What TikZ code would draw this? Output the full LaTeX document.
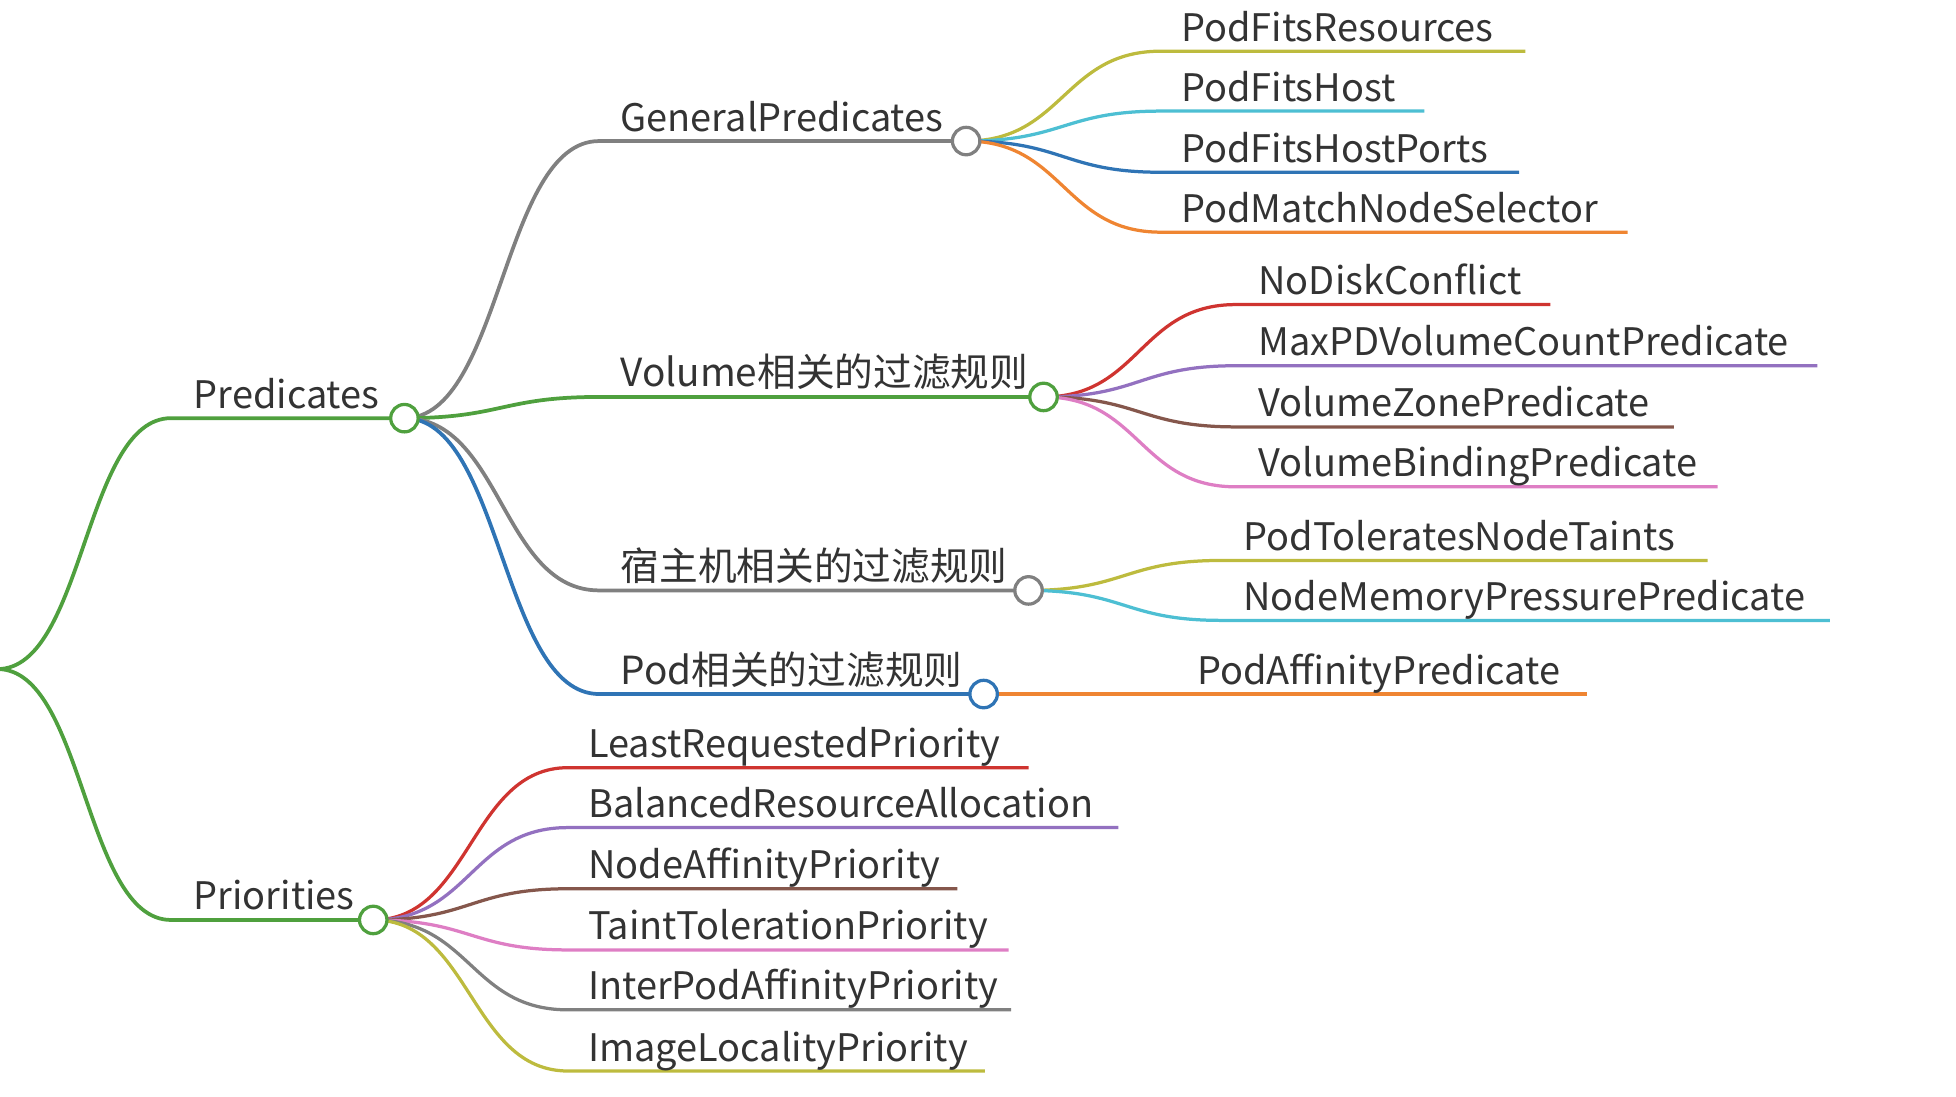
\documentclass[tikz,border=0pt]{standalone}
\usepackage{fontspec}
\setmainfont{Noto Sans CJK SC}
\usetikzlibrary{calc}
\pgfdeclarelayer{bg}\pgfsetlayers{bg,main}
\definecolor{txt}{HTML}{333333}
\definecolor{cgreen}{HTML}{4FA03E}
\definecolor{cgray}{HTML}{808080}
\definecolor{cblue}{HTML}{2F74B5}
\definecolor{corange}{HTML}{EF8532}
\definecolor{cred}{HTML}{CF3430}
\definecolor{cpurple}{HTML}{9371C0}
\definecolor{cbrown}{HTML}{85574C}
\definecolor{cpink}{HTML}{DE7EC4}
\definecolor{colive}{HTML}{BDBB3E}
\definecolor{ccyan}{HTML}{4DBFD3}
\newcommand\zh{\fontsize{31}{37}\selectfont}
\tikzset{
  lbl/.style={anchor=base west, inner sep=0pt, text=txt, font=\fontsize{30.4}{37}\selectfont},
  dot/.style={circle, draw=#1, fill=white, line width=2.6pt, minimum size=22pt, inner sep=0pt},
  branch/.style={draw=#1, line width=3pt},
  twig/.style={draw=#1, line width=2.6pt},
}
\newcommand\curvelink[4]{%
  \begin{pgfonlayer}{bg}
  \draw[#1] let \p1=(#2), \p2=(#3) in (\p1) .. controls ({(\x1+\x2)/2},\y1) and ({(\x1+\x2)/2},\y2) .. (\p2) -- (#4);
  \end{pgfonlayer}}
% #1 name, #2 parent circle, #3 colour, #4 y, #5 line start x, #6 line end x, #7 text x, #8 text
\newcommand\leaf[8]{%
  \coordinate (#1-s) at (#5,#4);
  \coordinate (#1-e) at (#6,#4);
  \node[lbl] (#1) at (#7,#4-8) {#8};
  \curvelink{twig=#3}{#2.center}{#1-s}{#1-e}}
% #1 name, #2 parent circle, #3 colour, #4 y, #5 line start x, #6 circle x, #7 text x, #8 text
\newcommand\inner[8]{%
  \coordinate (#1-s) at (#5,#4);
  \node[dot=#3] (#1-c) at (#6,#4) {};
  \node[lbl] (#1) at (#7,#4-8) {#8};
  \curvelink{branch=#3}{#2}{#1-s}{#1-c.center}}
\begin{document}
\begin{tikzpicture}[x=1pt,y=-1pt]
\useasboundingbox (0,0) rectangle (1567,878.1);
\coordinate (root) at (-2,536);
% level 1
\inner{pred}{root}{cgreen}{335}{137}{324}{155}{Predicates}
\inner{prio}{root}{cgreen}{737}{137}{299}{155}{Priorities}
% level 2
\inner{gp}{pred-c.center}{cgray}{113}{480}{774}{497}{GeneralPredicates}
\inner{vol}{pred-c.center}{cgreen}{318}{480}{836}{497}{\zh Volume相关的过滤规则}
\inner{host}{pred-c.center}{cgray}{473}{480}{824}{497}{\zh 宿主机相关的过滤规则}
\inner{pod}{pred-c.center}{cblue}{556}{480}{788}{497}{\zh Pod相关的过滤规则}
% leaves of GeneralPredicates
\leaf{pfr}{gp-c}{colive}{41}{930}{1222}{946}{PodFitsResources}
\leaf{pfh}{gp-c}{ccyan}{89}{930}{1141}{946}{PodFitsHost}
\leaf{pfhp}{gp-c}{cblue}{138}{930}{1217}{946}{PodFitsHostPorts}
\leaf{pmns}{gp-c}{corange}{186}{930}{1304}{946}{PodMatchNodeSelector}
% leaves of Volume
\leaf{ndc}{vol-c}{cred}{244}{990}{1242}{1008}{NoDiskConflict}
\leaf{mpd}{vol-c}{cpurple}{293}{990}{1456}{1008}{MaxPDVolumeCountPredicate}
\leaf{vzp}{vol-c}{cbrown}{342}{990}{1341}{1008}{VolumeZonePredicate}
\leaf{vbp}{vol-c}{cpink}{390}{990}{1376}{1008}{VolumeBindingPredicate}
% leaves of host
\leaf{ptnt}{host-c}{colive}{449}{978}{1368}{996}{PodToleratesNodeTaints}
\leaf{nmpp}{host-c}{ccyan}{497}{978}{1466}{996}{NodeMemoryPressurePredicate}
% leaf of pod
\leaf{pap}{pod-c}{corange}{556}{940}{1271}{959}{PodAffinityPredicate}
% leaves of Priorities
\leaf{lrp}{prio-c}{cred}{615}{455}{824}{471}{LeastRequestedPriority}
\leaf{bra}{prio-c}{cpurple}{663}{455}{896}{471}{BalancedResourceAllocation}
\leaf{nap}{prio-c}{cbrown}{712}{455}{767}{471}{NodeAffinityPriority}
\leaf{ttp}{prio-c}{cpink}{761}{455}{808}{471}{TaintTolerationPriority}
\leaf{ipap}{prio-c}{cgray}{809}{455}{810}{471}{InterPodAffinityPriority}
\leaf{ilp}{prio-c}{colive}{858}{455}{789}{471}{ImageLocalityPriority}
\end{tikzpicture}
\end{document}
